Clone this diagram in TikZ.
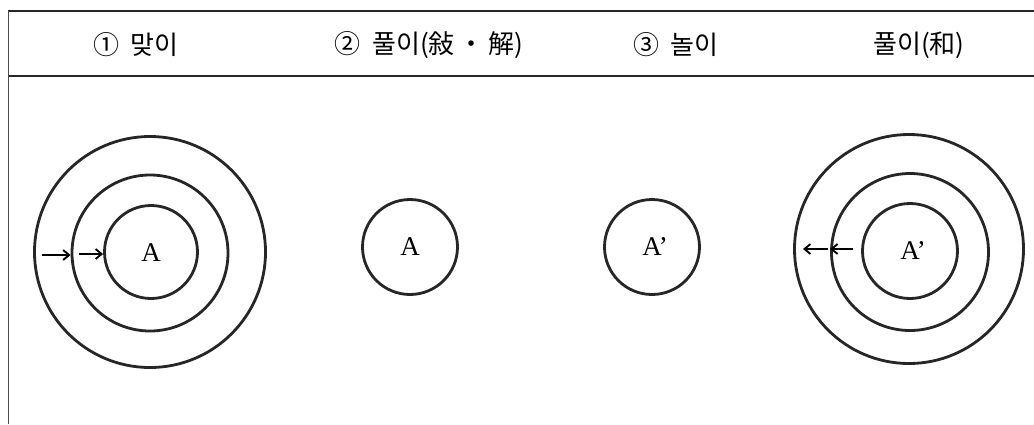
\documentclass[tikz,border=0pt]{standalone}
\usepackage{fontspec}
\setmainfont{Liberation Serif}
\newfontfamily\kr{Noto Sans CJK KR}
\usetikzlibrary{arrows.meta}
\begin{document}
\begin{tikzpicture}[x=1pt,y=-1pt,
  ring/.style={circle,draw=black!85,line width=2.8pt,inner sep=0pt},
  head/.style={font=\kr\fontsize{26}{30}\selectfont,inner sep=0pt,anchor=center},
  lbl/.style={font=\fontsize{27}{30}\selectfont,inner sep=0pt},
  arr/.style={line width=1.9pt,-{Straight Barb[length=6pt,width=10pt]}},
  rulel/.style={line width=1.3pt,black!85}]
\useasboundingbox (0,0) rectangle (1034,424);
% frame
\coordinate (tl) at (8,11);
\coordinate (tr) at (1034,11);
\coordinate (ml) at (8,76);
\coordinate (mr) at (1034,76);
\coordinate (bl) at (8,424);
\draw[rulel] (tl) -- (tr);
\draw[rulel] (ml) -- (mr);
\draw[line width=0.9pt,black!70] (tl) -- (bl);
% headers
\node[head] (h1) at (136,45) {①\hspace{0.45em}맞이};
\node[head] (h2) at (429,45) {②\hspace{0.45em}풀이(敍\hspace{0.15em}・\hspace{0.15em}解)};
\node[head] (h3) at (676,45) {③\hspace{0.45em}놀이};
\node[head] (h4) at (919,45) {풀이(和)};
% left concentric
\node[ring,minimum size=231pt] (a3) at (150,252) {};
\node[ring,minimum size=156pt] (a2) at (150,253) {};
\node[ring,minimum size=93pt] (a1) at (151,252) {};
\node[lbl] (la) at (151,253) {A};
\coordinate (s1) at (42,255);
\coordinate (s2) at (79,254);
\draw[arr] (s1) -- (a2.west |- s1);
\draw[arr] (s2) -- (a1.west |- s2);
% middle circles
\node[ring,minimum size=95pt] (b) at (410,247) {};
\node[lbl] (lb) at (410,247) {A};
\node[ring,minimum size=95pt] (c) at (652,247) {};
\node[lbl] (lc) at (655,247) {A'};
% right concentric
\node[ring,minimum size=229pt] (d3) at (909,249) {};
\node[ring,minimum size=157pt] (d2) at (910,252) {};
\node[ring,minimum size=95pt] (d1) at (910,251) {};
\node[lbl] (ld) at (913,251) {A'};
\coordinate (t1) at (853,249);
\coordinate (t2) at (828,249);
\coordinate (e2) at (803,249);
\draw[arr] (t1) -- (d2.west |- t1);
\draw[arr] (t2) -- (e2);
\end{tikzpicture}
\end{document}
